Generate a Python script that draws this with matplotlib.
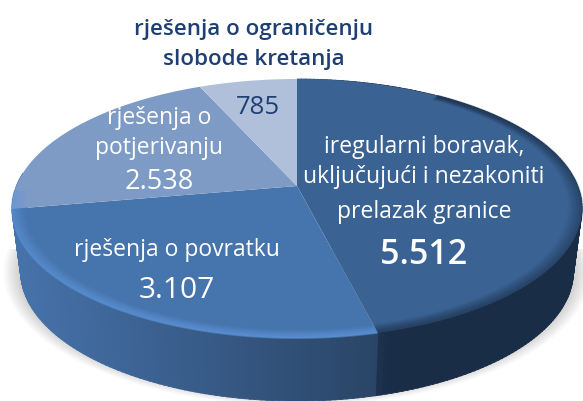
import numpy as np
import matplotlib
matplotlib.use("Agg")
import matplotlib.pyplot as plt
from matplotlib.colors import to_rgb

plt.rcParams['font.family'] = ['Open Sans', 'DejaVu Sans']

# clockwise from 12 o'clock
values = [5512, 3107, 2538, 785]
value_labels = ['5.512', '3.107', '2.538', '785']
top_colors = ['#3a6292', '#4674ad', '#7e9bc6', '#b0c0da']
side_left = ['#2c486e', '#4672aa', '#4672aa', '#4672aa']
side_right = ['#1a2d47', '#2a4567', '#2a4567', '#2a4567']
TEXT_DARK = '#1f3f73'

CX, CY = 297, 186
A, B, K = 280.6, 125.6, 0.174
DEPTH = 63


def rim(theta, scale=1.0):
    # perspective projection of the pie circle, theta in degrees
    u = np.sin(np.radians(theta)) * scale
    v = np.cos(np.radians(theta)) * scale
    w = 1 + K * v
    return CX + A * u / w, CY - B * v / w


def mix(c1, c2, t):
    c1, c2 = np.array(to_rgb(c1)), np.array(to_rgb(c2))
    return tuple(c1 + (c2 - c1) * t)


fig = plt.figure(figsize=(5.83, 4.01), dpi=100)
ax = fig.add_axes([0, 0, 1, 1])
ax.set_xlim(0, 583)
ax.set_ylim(401, 0)
ax.axis('off')

edges = np.concatenate([[0], np.cumsum(values)]) / sum(values) * 360
SHRINK = 0.97

# soft shadow under the pie
th = np.linspace(90, 270, 120)
for s in np.linspace(1.03, 0.96, 12):
    x, y = rim(th)
    ax.fill(CX + (x - CX) * s, CY + DEPTH + (y - CY) * s, color='#000000', alpha=0.018, lw=0, zorder=1)

# side wall, built from thin strips
for i in range(len(values)):
    th = np.arange(edges[i], edges[i + 1], 1.0)
    for t in th:
        if not 90 <= (t % 360) <= 275 and i > 0:
            continue
        t2 = min(t + 1.2, edges[i + 1])
        x1, y1 = rim(t)
        x2, y2 = rim(t2)
        xb1 = CX + (x1 - CX) * SHRINK
        xb2 = CX + (x2 - CX) * SHRINK
        if i == 0:
            col = mix(side_left[i], side_right[i], min(1, (x1 - 378) / 60 + 0.75))
        else:
            col = mix(side_left[i], side_right[i], np.clip((x1 - 20) / 358, 0, 1))
        ax.fill([x1, x2, xb2, xb1], [y1, y2, y2 + DEPTH, y1 + DEPTH], color=col, lw=0.6, ec=col, zorder=2)

# top face
for i in range(len(values)):
    th = np.linspace(edges[i], edges[i + 1], 100)
    x, y = rim(th)
    ax.fill(np.r_[CX, x], np.r_[CY, y], color=top_colors[i], lw=0, zorder=3)

# bevel along the rim
for s, a in zip(np.linspace(1.0, 0.955, 10), np.linspace(0.5, 0.03, 10)):
    th = np.linspace(edges[1], edges[2] + 8, 120)
    x, y = rim(th, s)
    ax.plot(x, y, color='#5f97dc', alpha=a, lw=1.4, zorder=4, solid_capstyle='butt')
    th = np.linspace(35, edges[1], 100)
    x, y = rim(th, s)
    ax.plot(x, y, color='#1b2f4a', alpha=a * 0.8, lw=1.6, zorder=4, solid_capstyle='butt')

sty = dict(ha='center', va='center', zorder=6)
ax.text(254, 29, 'rješenja o ograničenju', color=TEXT_DARK, fontsize=16.1, fontweight='semibold', **sty)
ax.text(254, 59, 'slobode kretanja', color=TEXT_DARK, fontsize=16.1, fontweight='semibold', **sty)
ax.text(258, 108, value_labels[3], color=TEXT_DARK, fontsize=18.5, fontweight='medium', **sty)

ax.text(159, 118, 'rješenja o', color='white', fontsize=16.5, fontweight='medium', **sty)
ax.text(159, 148, 'potjerivanju', color='white', fontsize=16.5, fontweight='medium', **sty)
ax.text(159, 182, value_labels[2], color='white', fontsize=19.5, fontweight='medium', **sty)

ax.text(177, 250, 'rješenja o povratku', color='white', fontsize=16.5, fontweight='medium', **sty)
ax.text(177, 290, value_labels[1], color='white', fontsize=21.5, fontweight='medium', **sty)

ax.text(424, 147, 'iregularni boravak,', color='white', fontsize=16.5, fontweight='medium', **sty)
ax.text(424, 177, 'uključujući i nezakoniti', color='white', fontsize=16.5, fontweight='medium', **sty)
ax.text(424, 212, 'prelazak granice', color='white', fontsize=16.5, fontweight='medium', **sty)
ax.text(424, 255, value_labels[0], color='white', fontsize=24.5, fontweight='semibold', **sty)

fig.savefig('out.png', dpi=100)
